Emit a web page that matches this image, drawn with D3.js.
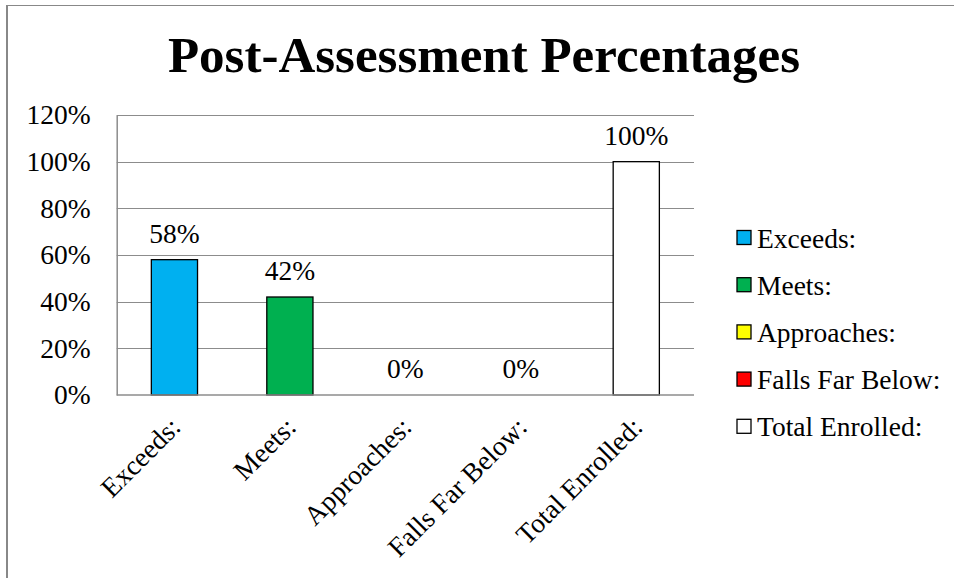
<!DOCTYPE html>
<html>
<head>
<meta charset="utf-8">
<script src="https://cdn.jsdelivr.net/npm/d3@7"></script>
<style>
  html, body { margin: 0; padding: 0; background: #fff; }
  svg { display: block; }
  text { font-family: "Liberation Serif", "Times New Roman", serif; fill: #000; }
</style>
</head>
<body>
<svg id="chart" width="954" height="578"></svg>
<script>
// Post-assessment results by performance level
const categories = ["Exceeds:", "Meets:", "Approaches:", "Falls Far Below:", "Total Enrolled:"];
const percentages = [0.58, 0.42, 0, 0, 1.0];
const barColors = ["#00B0F0", "#00B050", "#FFFF00", "#FF0000", "#FFFFFF"];
const yTickValues = [0, 0.2, 0.4, 0.6, 0.8, 1.0, 1.2];
const chartTitle = "Post-Assessment Percentages";

const labelSize = "27.5px";
const svg = d3.select("#chart");

// Outer chart frame
svg.append("path")
  .attr("d", "M7,600 L7,5.5 L960,5.5")
  .attr("fill", "none")
  .attr("stroke", "#888")
  .attr("stroke-width", 1);
svg.append("line")
  .attr("x1", 7).attr("x2", 7).attr("y1", 5).attr("y2", 600)
  .attr("stroke", "#888").attr("stroke-width", 2);

// Title
svg.append("text")
  .attr("x", 484).attr("y", 72)
  .attr("text-anchor", "middle")
  .style("font-size", "51px")
  .style("font-weight", "bold")
  .text(chartTitle);

const plot = { left: 116.7, right: 694, top: 115, bottom: 395 };

const x = d3.scaleBand()
  .domain(categories)
  .range([plot.left, plot.right])
  .paddingInner(0.6)
  .paddingOuter(0.3);

const y = d3.scaleLinear()
  .domain([0, 1.2])
  .range([plot.bottom, plot.top]);

// Horizontal gridlines
svg.append("g")
  .selectAll("line")
  .data(yTickValues.filter(v => v > 0))
  .join("line")
  .attr("x1", plot.left).attr("x2", plot.right)
  .attr("y1", d => Math.round(y(d)) + 0.5).attr("y2", d => Math.round(y(d)) + 0.5)
  .attr("stroke", "#8c8c8c").attr("stroke-width", 1);

// Y axis
const yAxis = svg.append("g")
  .attr("transform", `translate(${plot.left},0)`)
  .call(d3.axisLeft(y).tickValues(yTickValues).tickFormat(d3.format(".0%")).tickSize(0).tickPadding(26));
yAxis.select(".domain").attr("stroke", "#8c8c8c").attr("stroke-width", 1.5);
yAxis.selectAll(".tick text")
  .style("font-size", labelSize)
  .style("font-family", '"Liberation Serif", "Times New Roman", serif');

// Bars
const bw = x.bandwidth();
svg.append("g")
  .selectAll("rect")
  .data(categories)
  .join("rect")
  .attr("x", d => x(d))
  .attr("y", (d, i) => y(percentages[i]))
  .attr("width", bw)
  .attr("height", (d, i) => y(0) - y(percentages[i]))
  .attr("fill", (d, i) => barColors[i])
  .attr("stroke", (d, i) => percentages[i] > 0 ? "#000" : "none")
  .attr("stroke-width", 1.3);

// X axis baseline
svg.append("line")
  .attr("x1", plot.left).attr("x2", plot.right)
  .attr("y1", plot.bottom).attr("y2", plot.bottom)
  .attr("stroke", "#8c8c8c").attr("stroke-width", 1.5);

// Data labels
svg.append("g")
  .selectAll("text")
  .data(categories)
  .join("text")
  .attr("x", d => x(d) + bw / 2)
  .attr("y", (d, i) => y(percentages[i]) - 17)
  .attr("text-anchor", "middle")
  .style("font-size", labelSize)
  .text((d, i) => d3.format(".0%")(percentages[i]));

// Category labels, rotated
svg.append("g")
  .selectAll("text")
  .data(categories)
  .join("text")
  .attr("transform", d => `translate(${x(d) + bw / 2 + 1},${plot.bottom + 27}) rotate(-45)`)
  .attr("text-anchor", "end")
  .attr("dy", "0.35em")
  .style("font-size", labelSize)
  .text(d => d);

// Legend
const legend = svg.append("g")
  .selectAll("g")
  .data(categories)
  .join("g")
  .attr("transform", (d, i) => `translate(737,${238 + i * 47.2})`);
legend.append("rect")
  .attr("x", 0).attr("y", -7.5)
  .attr("width", 14).attr("height", 14)
  .attr("fill", (d, i) => barColors[i])
  .attr("stroke", "#000").attr("stroke-width", 1.3);
legend.append("text")
  .attr("x", 20).attr("y", 0)
  .attr("dy", "0.35em")
  .style("font-size", labelSize)
  .text(d => d);
</script>
</body>
</html>
